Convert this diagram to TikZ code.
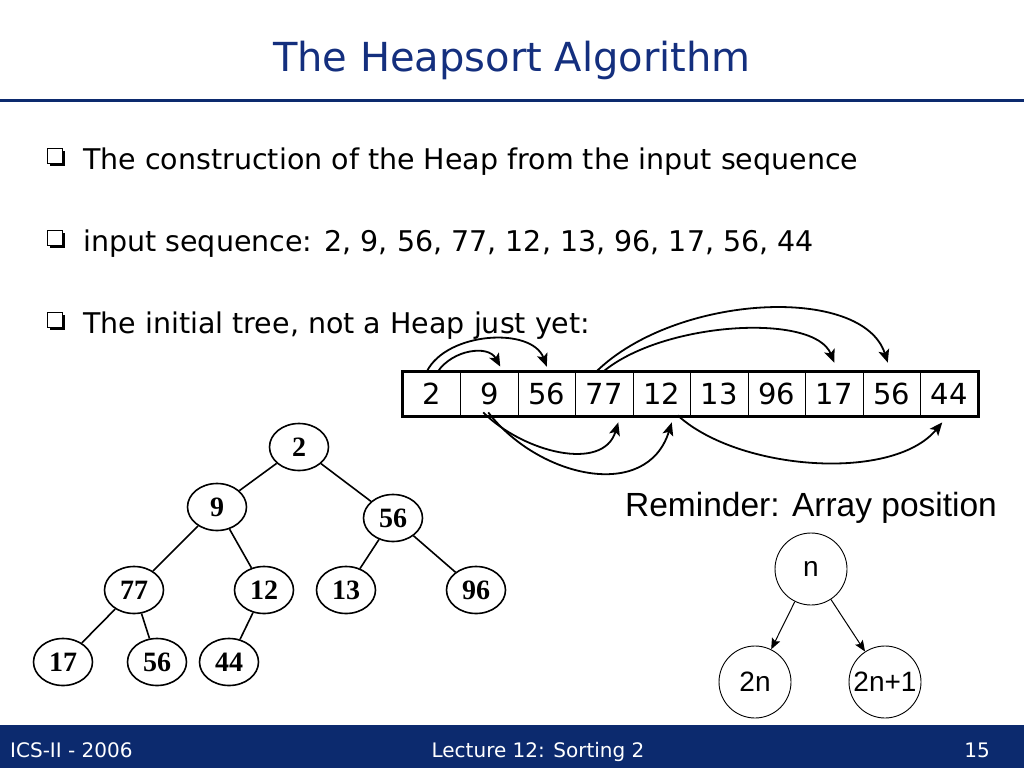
\documentclass[tikz,border=0pt]{standalone}
\usepackage{fontspec}
\setmainfont{DejaVu Sans}
\newfontfamily\arialfont{Liberation Sans}
\newfontfamily\timesfont{Liberation Serif}
\usepackage{tikz}
\usetikzlibrary{arrows.meta, positioning, calc, shapes.geometric, shadows}
\usepackage{xcolor}
\definecolor{Navy}{HTML}{0C2A6E}
\definecolor{TitleBlue}{HTML}{142F7E}

\begin{document}
\begin{tikzpicture}[x=1pt, y=-1pt, >={Stealth[length=13pt, width=11pt, inset=3pt]},
  cell/.style={draw, line width=0.8pt, minimum width=57.5pt, minimum height=44pt,
    inner sep=0pt, font=\fontsize{29}{32}\selectfont},
  tnode/.style={draw, ellipse, line width=1.6pt, minimum width=59pt, minimum height=47pt,
    inner sep=0pt, font=\timesfont\bfseries\fontsize{28}{30}\selectfont},
  rnode/.style={draw, circle, line width=0.9pt, minimum size=72pt, inner sep=0pt,
    font=\arialfont\fontsize{28}{30}\selectfont},
  bulletbox/.style={draw, fill=white, line width=1pt, minimum size=15pt, inner sep=0pt,
    drop shadow={shadow xshift=2.5pt, shadow yshift=-2.5pt, fill=black, opacity=1}},
  bullettext/.style={anchor=base west, inner sep=0pt, font=\fontsize{28.5}{32}\selectfont},
  idx/.style={->, line width=1.8pt},
  foot/.style={anchor=base, inner sep=0pt, text=white, font=\fontsize{20}{24}\selectfont}]
  \useasboundingbox (0,0) rectangle (1024,768);

  % title and rule
  \node[anchor=base, inner sep=0pt, text=TitleBlue, font=\fontsize{40}{48}\selectfont]
    (title) at (512,71) {The Heapsort Algorithm};
  \draw[Navy, line width=3pt] (0,100) -- (1024,100);

  % bullets
  \node[bulletbox] (box1) at (55,156) {};
  \node[bullettext] (txt1) at (83,169) {The construction of the Heap from the input sequence};
  \node[bulletbox] (box2) at (55,238) {};
  \node[bullettext] (txt2) at (83,251) {input sequence: 2, 9, 56, 77, 12, 13, 96, 17, 56, 44};
  \node[bulletbox] (box3) at (55,320) {};
  \node[bullettext] (txt3) at (83,333) {The initial tree, not a Heap just yet:};

  % array
  \foreach \v [count=\i] in {2,9,56,77,12,13,96,17,56,44}
    \node[cell] (c\i) at ({403+57.5*(\i-0.5)},394) {\v};
  \draw[line width=3pt] (c1.north west) rectangle (c10.south east);

  % index arrows above
  \draw[idx] ([xshift=6pt]c1.north) .. controls +(15,-22) and +(-12,-22) ..
    ([xshift=11pt, yshift=5pt]c2.north);
  \draw[idx] ([xshift=-5pt]c1.north) .. controls +(20,-40) and +(-15,-40) ..
    ([yshift=5pt]c3.north);
  \draw[idx] ([xshift=-1pt]c4.north) .. controls +(60,-50) and +(-20,-50) ..
    ([yshift=9pt]c8.north);
  \draw[idx] ([xshift=-8pt]c4.north) .. controls +(80,-78) and +(-25,-78) ..
    ([xshift=-4pt, yshift=9pt]c9.north);

  % index arrows below
  \draw[idx] ([xshift=-6pt, yshift=4pt]c2.south) .. controls +(40,40) and +(-15,50) ..
    ([xshift=14pt, yshift=-6pt]c4.south);
  \draw[idx] ([xshift=-1pt, yshift=4pt]c2.south) .. controls +(50,65) and +(-25,80) ..
    ([xshift=10pt, yshift=-6pt]c5.south);
  \draw[idx] ([xshift=16pt, yshift=1pt]c5.south) .. controls +(60,55) and +(-50,60) ..
    ([xshift=-7pt, yshift=-6pt]c10.south);

  % initial tree
  \node[tnode] (t2) at (299,447) {2};
  \node[tnode] (t9) at (217,507) {9};
  \node[tnode] (t56) at (393,518) {56};
  \node[tnode] (t77) at (134,590) {77};
  \node[tnode] (t12) at (264,590) {12};
  \node[tnode] (t13) at (346,590) {13};
  \node[tnode] (t96) at (476,590) {96};
  \node[tnode] (t17) at (63,662) {17};
  \node[tnode] (t56b) at (157,662) {56};
  \node[tnode] (t44) at (229,662) {44};
  \draw[line width=1.6pt] (t2) -- (t9);
  \draw[line width=1.6pt] (t2) -- (t56);
  \draw[line width=1.6pt] (t9) -- (t77);
  \draw[line width=1.6pt] (t9) -- (t12);
  \draw[line width=1.6pt] (t56) -- (t13);
  \draw[line width=1.6pt] (t56) -- (t96);
  \draw[line width=1.6pt] (t77) -- (t17);
  \draw[line width=1.6pt] (t77) -- (t56b);
  \draw[line width=1.6pt] (t12) -- (t44);

  % reminder
  \node[anchor=base, inner sep=0pt, font=\arialfont\fontsize{33.5}{38}\selectfont]
    (rem) at (811,516) {Reminder: Array position};
  \node[rnode] (rn) at (811,569) {n};
  \node[rnode] (r2n) at (755,682) {2n};
  \node[rnode] (r2n1) at (885,682) {2n+1};
  \draw[->, >={Stealth[length=11pt, width=9pt, inset=2pt]}, line width=1pt] (rn) -- (r2n);
  \draw[->, >={Stealth[length=11pt, width=9pt, inset=2pt]}, line width=1pt] (rn) -- (r2n1);

  % footer
  \fill[Navy] (0,725) rectangle (1024,768);
  \node[foot, anchor=base west] (f1) at (10,757) {ICS-II - 2006};
  \node[foot] (f2) at (538,757) {Lecture 12: Sorting 2};
  \node[foot, anchor=base east] (f3) at (990,757) {15};
\end{tikzpicture}
\end{document}
